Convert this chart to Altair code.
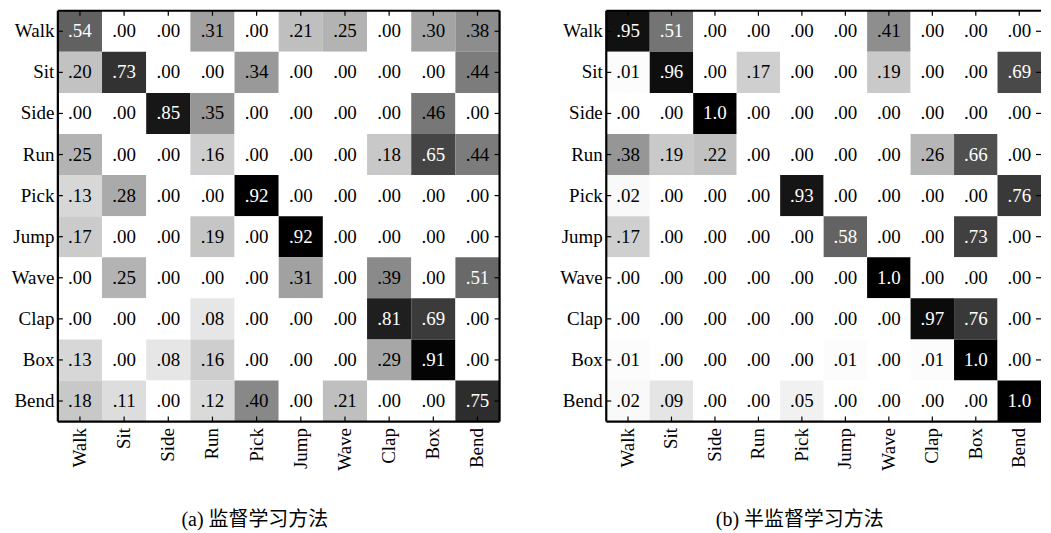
import altair as alt
import pandas as pd

cats = ["Walk", "Sit", "Side", "Run", "Pick", "Jump", "Wave", "Clap", "Box", "Bend"]

# (a) supervised: rows = true class, columns = predicted class
sup_matrix = [
    [.54, .00, .00, .31, .00, .21, .25, .00, .30, .38],
    [.20, .73, .00, .00, .34, .00, .00, .00, .00, .44],
    [.00, .00, .85, .35, .00, .00, .00, .00, .46, .00],
    [.25, .00, .00, .16, .00, .00, .00, .18, .65, .44],
    [.13, .28, .00, .00, .92, .00, .00, .00, .00, .00],
    [.17, .00, .00, .19, .00, .92, .00, .00, .00, .00],
    [.00, .25, .00, .00, .00, .31, .00, .39, .00, .51],
    [.00, .00, .00, .08, .00, .00, .00, .81, .69, .00],
    [.13, .00, .08, .16, .00, .00, .00, .29, .91, .00],
    [.18, .11, .00, .12, .40, .00, .21, .00, .00, .75],
]

# (b) semi-supervised
semi_matrix = [
    [.95, .51, .00, .00, .00, .00, .41, .00, .00, .00],
    [.01, .96, .00, .17, .00, .00, .19, .00, .00, .69],
    [.00, .00, 1.0, .00, .00, .00, .00, .00, .00, .00],
    [.38, .19, .22, .00, .00, .00, .00, .26, .66, .00],
    [.02, .00, .00, .00, .93, .00, .00, .00, .00, .76],
    [.17, .00, .00, .00, .00, .58, .00, .00, .73, .00],
    [.00, .00, .00, .00, .00, .00, 1.0, .00, .00, .00],
    [.00, .00, .00, .00, .00, .00, .00, .97, .76, .00],
    [.01, .00, .00, .00, .00, .01, .00, .01, 1.0, .00],
    [.02, .09, .00, .00, .05, .00, .00, .00, .00, 1.0],
]

titles = ["(a) 监督学习方法", "(b) 半监督学习方法"]

SERIF = "Liberation Serif, Times New Roman, serif"
TITLE_FONT = "Liberation Serif, Noto Sans CJK SC, sans-serif"
FS = 19


def fmt(v):
    if v >= 1:
        return "1.0"
    return ("%.2f" % v)[1:]


def to_df(matrix):
    rows = []
    for i, t in enumerate(cats):
        for j, p in enumerate(cats):
            v = matrix[i][j]
            rows.append({"true": t, "pred": p, "v": v, "label": fmt(v)})
    return pd.DataFrame(rows)


tick_df = pd.DataFrame({"pred": cats, "true": cats})
one_df = pd.DataFrame({"a": [0]})


def panel(matrix, title, width, height, dx, right_border):
    df = to_df(matrix)
    vmax = max(max(r) for r in matrix)
    xscale = alt.Scale(domain=cats)
    yscale = alt.Scale(domain=cats)
    xenc = alt.X("pred:N", scale=xscale, title=None,
                 axis=alt.Axis(labelAngle=270, ticks=False, domain=False,
                               labelPadding=6, labelFont=SERIF,
                               labelFontSize=FS, labelColor="black"))
    yenc = alt.Y("true:N", scale=yscale, title=None,
                 axis=alt.Axis(ticks=False, domain=False, labelPadding=4,
                               labelFont=SERIF, labelFontSize=FS,
                               labelColor="black"))
    xplain = alt.X("pred:N", scale=xscale, title=None)
    yplain = alt.Y("true:N", scale=yscale, title=None)
    base = alt.Chart(df)
    rect = base.mark_rect().encode(
        x=xenc, y=yenc,
        color=alt.Color("v:Q", legend=None,
                        scale=alt.Scale(domain=[0, vmax],
                                        range=["#ffffff", "#000000"])),
    )
    text = base.mark_text(font=SERIF, fontSize=FS).encode(
        x=xplain, y=yplain,
        text="label:N",
        color=alt.condition(alt.datum.v >= 0.5, alt.value("white"), alt.value("black")),
    )
    tb = alt.Chart(tick_df)
    tl = 5
    top = tb.mark_rule(color="black", strokeWidth=1.2).encode(
        x=xplain, y=alt.value(0), y2=alt.value(tl))
    bottom = tb.mark_rule(color="black", strokeWidth=1.2).encode(
        x=xplain, y=alt.value(height - tl), y2=alt.value(height))
    left = tb.mark_rule(color="black", strokeWidth=1.2).encode(
        y=yplain, x=alt.value(0), x2=alt.value(tl))
    right = tb.mark_rule(color="black", strokeWidth=1.2).encode(
        y=yplain, x=alt.value(width - tl), x2=alt.value(width))
    layers = [rect, text, top, bottom, left, right]
    fb = alt.Chart(one_df)
    layers += [
        fb.mark_rule(color="black", strokeWidth=2.2).encode(
            x=alt.value(0), y=alt.value(0), y2=alt.value(height)),
        fb.mark_rule(color="black", strokeWidth=2.2).encode(
            x=alt.value(0), x2=alt.value(width), y=alt.value(0)),
        fb.mark_rule(color="black", strokeWidth=2.2).encode(
            x=alt.value(0), x2=alt.value(width), y=alt.value(height)),
    ]
    if right_border:
        layers.append(fb.mark_rule(color="black", strokeWidth=2.2).encode(
            x=alt.value(width), y=alt.value(0), y2=alt.value(height)))
    return alt.layer(*layers).properties(
        width=width, height=height, view=alt.ViewBackground(stroke=None),
        title=alt.TitleParams(title, orient="bottom", anchor="middle",
                              font=TITLE_FONT, fontSize=20, fontWeight="normal",
                              color="black", offset=40, dx=dx),
    )


left_panel = panel(sup_matrix, titles[0], 443, 412, -24, True)
right_panel = panel(semi_matrix, titles[1], 436, 412, -24, False)

chart = alt.hconcat(left_panel, right_panel, spacing=58).resolve_scale(
    color="independent", x="independent", y="independent"
).properties(
    padding={"left": 3, "top": 0, "right": 0, "bottom": 0},
    background="white",
)

chart.save("out.html", embed_options={"renderer": "svg", "actions": False})
